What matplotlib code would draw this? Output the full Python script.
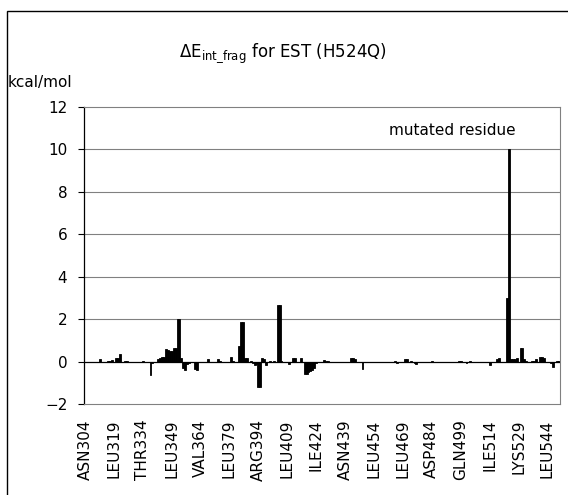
import matplotlib; matplotlib.use('agg')
import matplotlib.pyplot as plt
import matplotlib.patches as mpatches
import numpy as np

# residues ASN304 ... 550, one bar per residue, labelled every 15th
tick_labels = ['ASN304', 'LEU319', 'THR334', 'LEU349', 'VAL364', 'LEU379',
               'ARG394', 'LEU409', 'ILE424', 'ASN439', 'LEU454', 'LEU469',
               'ASP484', 'GLN499', 'ILE514', 'LYS529', 'LEU544']
label_step = 15

# interaction energies (kcal/mol), rows of 15 residues starting at each label
de_304 = [0, 0, 0, 0, 0, 0, 0, 0, 0.10, 0, 0, 0, 0.05, 0.05, 0.08]
de_319 = [0, 0.15, 0.18, 0.35, 0, 0, 0.05, 0.05, 0, 0, 0, 0, 0, 0, 0]
de_334 = [0.05, 0, 0, 0, -0.65, -0.05, -0.03, 0, 0.10, 0.15, 0.20, 0.20, 0.57, 0.55, 0.50]
de_349 = [0.50, 0.62, 0.62, 2.02, 2.02, 0.15, -0.30, -0.38, -0.10, -0.05, 0, 0, -0.35, -0.38, 0]
de_364 = [0, 0, 0, 0, 0.10, 0, 0, 0, -0.03, 0.10, 0.05, 0, 0, 0, 0]
de_379 = [0, 0.22, 0.05, 0, 0, 0.75, 1.85, 1.85, 0.15, 0.15, 0, 0.05, -0.05, -0.15, -0.12]
de_394 = [-1.20, -1.18, 0.15, 0.12, -0.15, 0, 0.02, 0, 0.02, 0, 2.67, 2.67, 0.02, -0.03, 0]
de_409 = [0, -0.10, 0, 0.15, 0.15, 0, 0, 0.15, 0, -0.60, -0.60, -0.48, -0.45, -0.40, -0.30]
de_424 = [-0.08, 0, 0, 0, 0.08, 0.05, 0.03, 0, 0, -0.04, -0.04, -0.04, -0.04, 0, 0]
de_439 = [0, 0, 0, 0.15, 0.15, 0.10, 0, 0, 0, -0.35, 0, 0, 0, 0, 0]
de_454 = [0, 0, 0, 0, 0, 0, 0, 0, 0, 0, 0, 0.05, -0.05, 0, 0]
de_469 = [0, 0.12, 0.10, 0, 0.03, 0, -0.08, -0.10, 0, 0, 0, 0, 0, 0, 0]
de_484 = [0.05, 0, 0, 0, -0.04, 0, 0, -0.04, 0, 0, 0, 0, 0, 0, 0.05]
de_499 = [0.05, 0, 0, -0.05, 0, 0.05, 0, 0, 0, 0, 0, 0, 0, 0, 0]
de_514 = [-0.15, 0, 0, 0, 0.10, 0.15, 0, 0, 0, 3.00, 10.00, 0.10, 0.10, 0.12, 0.15]
de_529 = [0, 0.62, 0.62, 0.10, 0.05, 0, 0, 0.05, 0.05, 0.10, 0, 0.20, 0.20, 0.15, 0]
de_544 = [0, 0, -0.05, -0.25, 0, 0.03, 0.02]

delta_e = np.array(de_304 + de_319 + de_334 + de_349 + de_364 + de_379 +
                   de_394 + de_409 + de_424 + de_439 + de_454 + de_469 +
                   de_484 + de_499 + de_514 + de_529 + de_544)
x = np.arange(len(delta_e))

fig = plt.figure(figsize=(5.68, 4.95), dpi=100)
ax = fig.add_axes([84 / 568, 91 / 495, 476 / 568, 297 / 495])

grid_c = '#808080'
for v in range(2, 12, 2):
    ax.axhline(v, color=grid_c, lw=0.8, zorder=0)

ax.bar(x, delta_e, width=1.0, color='black', edgecolor='black', lw=0.6, zorder=2)
ax.axhline(0, color='black', lw=0.9, zorder=3)

ax.set_xlim(-0.5, len(delta_e) - 0.5)
ax.set_ylim(-2, 12)
ax.set_yticks(np.arange(-2, 13, 2))
ax.set_xticks(x[::label_step])
ax.set_xticklabels(tick_labels, rotation=90, fontsize=11)
ax.tick_params(axis='x', length=0, pad=11)
ax.tick_params(axis='y', labelsize=11, length=4, width=0.8, pad=8, direction='out')

ax.spines['left'].set_color('black')
ax.spines['left'].set_linewidth(0.9)
for s in ['top', 'right', 'bottom']:
    ax.spines[s].set_color(grid_c)
    ax.spines[s].set_linewidth(0.8)

ax.text(0.64, 10.9, 'mutated residue', fontsize=11, va='center', ha='left',
        transform=ax.get_yaxis_transform())

fig.text(283 / 568, 1 - 53 / 495,
         r'$\Delta$E$_{\mathregular{int\_frag}}$ for EST (H524Q)',
         fontsize=12, ha='center', va='center')
fig.text(8 / 568, 1 - 83 / 495, 'kcal/mol', fontsize=11, ha='left', va='center')

# outer chart frame (cut off at the right and bottom)
frame = mpatches.Rectangle((7 / 568, -0.1), 1.2, (495 - 11) / 495 + 0.1,
                           transform=fig.transFigure, fill=False,
                           edgecolor='black', lw=1.0, clip_on=False)
fig.add_artist(frame)

fig.savefig('out.png', dpi=100)
